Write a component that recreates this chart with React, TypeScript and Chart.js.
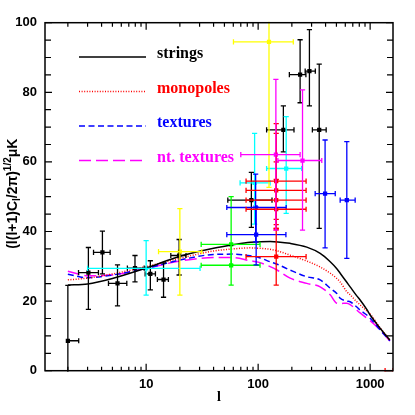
import React, { useEffect, useRef } from "react";
import { Chart, registerables } from "chart.js";
Chart.register(...registerables);

// multipole grid for theory curves
const curveL = [2, 3, 5, 10, 20, 40, 60, 85, 100, 128, 150, 193, 272, 358, 440, 504, 540, 619, 663, 760, 814, 933, 1000, 1228, 1500];
const strings = [24.6, 24.9, 26.5, 29.5, 32.9, 35.2, 36.2, 36.9, 37.0, 37.1, 37.0, 36.6, 35.5, 33.7, 31.3, 29.3, 28.0, 25.4, 24.1, 21.5, 20.3, 17.6, 16.0, 12.2, 8.8];
const monopoles = [26.1, 26.6, 27.8, 29.9, 32.3, 34.4, 35.0, 35.3, 35.2, 34.9, 34.4, 33.2, 31.5, 29.8, 28.0, 26.5, 25.5, 22.7, 21.8, 19.8, 18.9, 17.2, 16.3, 12.3, 8.8];
const textures = [27.7, 26.7, 27.5, 29.4, 31.8, 33.4, 33.5, 33.0, 32.6, 31.3, 30.5, 28.9, 27.0, 26.1, 23.7, 22.2, 20.8, 20.0, 19.8, 18.3, 17.4, 16.0, 15.1, 11.7, 8.6];
const ntTextures = [28.6, 27.3, 27.5, 29.4, 31.5, 32.5, 32.5, 31.6, 31.2, 29.9, 28.8, 26.6, 25.1, 24.1, 21.8, 19.4, 19.3, 19.4, 19.0, 17.4, 16.6, 15.1, 14.4, 11.7, 8.5];

// measurements: [l, value, lLow, lHigh, valueLow, valueHigh]
const blackPts = [
  [2, 8.6, 2, 2.5, -5, 24.5],
  [3.05, 28.2, 2.49, 3.75, 17.6, 35.4],
  [4.07, 34.0, 3.39, 4.77, 27.8, 40.1],
  [5.55, 25.1, 4.61, 6.72, 18.6, 30.4],
  [7.95, 29.5, 6.8, 9.6, 25.5, 33.1],
  [10.9, 27.8, 9.8, 12.1, 23.2, 31.6],
  [14.3, 26.2, 12.6, 15.8, 21.1, 31.0],
  [19.7, 33.1, 16.6, 22.7, 27.5, 37.7],
  [87, 49.0, 53.6, 133, 41.2, 57.0],
  [168, 69.2, 119, 209, 62.9, 76.1],
  [237, 85.1, 190, 267, 77.0, 95.1],
  [287, 86.1, 263, 324, 76.1, 98.0],
  [351, 69.2, 305, 405, 40.9, 88.1],
];
const cyanPts = [
  [10, 29.4, 3.0, 30.3, 21.7, 37.4],
  [93, 54.0, 69, 128, 42.1, 68.2],
  [178, 58.1, 119, 245, 45.2, 73.0],
];
const yellowPts = [
  [20, 34.2, 12.9, 31.4, 21.7, 46.6],
  [125, 94.5, 60.2, 206, 52.7, 110],
];
const greenPts = [
  [57.4, 36.3, 31, 104, 30.3, 50.0],
  [57.4, 30.3, 31, 104, 24.6, 36.3],
];
const bluePts = [
  [96, 39.1, 52.5, 177, 30.4, 47],
  [95, 46.9, 52.5, 178, 37, 56.5],
  [396, 50.9, 323, 488, 35.3, 66.3],
  [619, 49.0, 540, 735, 32.3, 65.8],
];
const redPts = [
  [145, 54.5, 78, 268, 40.9, 71.0],
  [145, 51.8, 78, 268, 43.5, 68.2],
  [145, 49.0, 78, 268, 42, 60],
  [145, 46.4, 78, 268, 40.5, 55],
  [145, 32.8, 78, 268, 24.6, 40.9],
];
const magentaPts = [
  [144, 62.1, 70, 237, 40.4, 83.7],
  [249, 60.4, 150, 370, 40.4, 80.7],
];
const redZeroBar = [[1470, 0, 1360, 1600, 0, 0]];

const xTickLabels = [10, 100, 1000];
const xMin = 1.25;
const xMax = 1600;
const yMin = 0;
const yMax = 100;

const legendNames = ["strings", "monopoles", "textures", "nt. textures"];
const curveColors = ["#000000", "#ff0000", "#0000ff", "#ff00ff"];
const curveDashes = [[], [1, 1.6], [6, 3.5], [12, 5]];

const groups = [
  { color: "#000000", pts: blackPts, marker: true },
  { color: "#00ffff", pts: cyanPts, marker: true },
  { color: "#ffff00", pts: yellowPts, marker: true },
  { color: "#00ff00", pts: greenPts, marker: true },
  { color: "#0000ff", pts: bluePts, marker: true },
  { color: "#ff0000", pts: redPts, marker: true },
  { color: "#ff00ff", pts: magentaPts, marker: true },
  { color: "#ff0000", pts: redZeroBar, marker: false },
];

const errorBarPlugin = {
  id: "errorBars",
  afterDatasetsDraw(chart: any) {
    const { ctx, chartArea: a, scales } = chart;
    const xs = scales.x, ys = scales.y;
    ctx.save();
    ctx.beginPath();
    ctx.rect(a.left, a.top - 1, a.right - a.left, a.bottom - a.top + 2);
    ctx.clip();
    ctx.lineWidth = 1.3;
    const cap = 2.6;
    groups.forEach((g) => {
      ctx.strokeStyle = g.color;
      g.pts.forEach((p) => {
        const px = xs.getPixelForValue(p[0]);
        const py = ys.getPixelForValue(p[1]);
        const x0 = xs.getPixelForValue(p[2]);
        const x1 = xs.getPixelForValue(p[3]);
        const y0 = ys.getPixelForValue(p[4]);
        const y1 = ys.getPixelForValue(p[5]);
        ctx.beginPath();
        ctx.moveTo(x0, py); ctx.lineTo(x1, py);
        if (p[4] !== p[5]) { ctx.moveTo(px, y0); ctx.lineTo(px, y1); }
        if (p[2] !== p[0]) { ctx.moveTo(x0, py - cap); ctx.lineTo(x0, py + cap); }
        ctx.moveTo(x1, py - cap); ctx.lineTo(x1, py + cap);
        if (p[4] !== p[5]) {
          ctx.moveTo(px - cap, y0); ctx.lineTo(px + cap, y0);
          ctx.moveTo(px - cap, y1); ctx.lineTo(px + cap, y1);
        }
        ctx.stroke();
      });
    });
    ctx.restore();
  },
};

const framePlugin = {
  id: "frameTicks",
  afterDraw(chart: any) {
    const { ctx, chartArea: a, scales } = chart;
    const xs = scales.x, ys = scales.y;
    ctx.save();
    ctx.strokeStyle = "#000";
    ctx.lineWidth = 1.5;
    ctx.setLineDash([]);
    ctx.strokeRect(a.left, a.top, a.right - a.left, a.bottom - a.top);
    ctx.lineWidth = 1.2;
    ctx.beginPath();
    for (let v = yMin; v <= yMax; v += 5) {
      const py = ys.getPixelForValue(v);
      const len = v % 20 === 0 ? 7 : 6;
      ctx.moveTo(a.left, py); ctx.lineTo(a.left + len, py);
      ctx.moveTo(a.right, py); ctx.lineTo(a.right - len, py);
    }
    for (let dec = 1; dec <= 1000; dec *= 10) {
      for (let m = 1; m <= 9; m++) {
        const v = dec * m;
        if (v < xMin || v > xMax) continue;
        const px = xs.getPixelForValue(v);
        const len = m === 1 ? 7 : 4;
        ctx.moveTo(px, a.bottom); ctx.lineTo(px, a.bottom - len);
        ctx.moveTo(px, a.top); ctx.lineTo(px, a.top + len);
      }
    }
    ctx.stroke();

    // legend inside plot
    legendNames.forEach((name, i) => {
      const ly = 57 + i * 34.5;
      ctx.strokeStyle = curveColors[i];
      ctx.lineWidth = 1.5;
      ctx.setLineDash(curveDashes[i]);
      ctx.beginPath();
      ctx.moveTo(79, ly); ctx.lineTo(146, ly);
      ctx.stroke();
      ctx.setLineDash([]);
      ctx.fillStyle = curveColors[i];
      ctx.font = 'bold 16px "Liberation Serif", serif';
      ctx.textAlign = "left";
      ctx.textBaseline = "alphabetic";
      ctx.fillText(name, 157, ly + 1);
    });

    // x title
    ctx.fillStyle = "#000";
    ctx.font = 'bold 14px "Liberation Serif", serif';
    ctx.textAlign = "center";
    ctx.fillText("l", (a.left + a.right) / 2, 401);

    // y title with sub/superscripts
    const big = 'bold 14px "Liberation Sans", Arial, sans-serif';
    const small = 'bold 10px "Liberation Sans", Arial, sans-serif';
    const parts = [
      { t: "(l(l+1)C", f: big, dy: 0 },
      { t: "l", f: small, dy: 3 },
      { t: "/2\u03c0)", f: big, dy: 0 },
      { t: "1/2", f: small, dy: -6 },
      { t: "\u03bcK", f: big, dy: 0 },
    ];
    let total = 0;
    parts.forEach((p) => { ctx.font = p.f; total += ctx.measureText(p.t).width; });
    ctx.translate(17, (a.top + a.bottom) / 2 - 3);
    ctx.rotate(-Math.PI / 2);
    ctx.textAlign = "left";
    let cx = -total / 2;
    parts.forEach((p) => {
      ctx.font = p.f;
      ctx.fillText(p.t, cx, p.dy);
      cx += ctx.measureText(p.t).width;
    });
    ctx.restore();
  },
};

export default function App() {
  const ref = useRef<HTMLCanvasElement | null>(null);
  useEffect(() => {
    if (!ref.current) return;
    const curveSets = [strings, monopoles, textures, ntTextures].map((arr, i) => ({
      type: "line" as const,
      label: legendNames[i],
      data: arr.map((v, j) => ({ x: curveL[j], y: v })),
      borderColor: curveColors[i],
      borderWidth: 1.5,
      borderDash: curveDashes[i],
      pointRadius: 0,
      fill: false,
      cubicInterpolationMode: "monotone" as const,
    }));
    const pointSets = groups.filter((g) => g.marker).map((g) => ({
      type: "scatter" as const,
      label: "data",
      data: g.pts.map((p) => ({ x: p[0], y: p[1] })),
      backgroundColor: g.color,
      borderColor: g.color,
      borderWidth: 0,
      pointStyle: "rect" as const,
      pointRadius: 3,
      showLine: false,
    }));
    const chart = new Chart(ref.current, {
      type: "scatter",
      data: { datasets: [...curveSets, ...pointSets] as any },
      options: {
        animation: false,
        responsive: false,
        devicePixelRatio: 1,
        layout: { padding: { top: 22.7, right: 22, left: 0, bottom: 0 } },
        plugins: { legend: { display: false }, tooltip: { enabled: false } },
        scales: {
          x: {
            type: "logarithmic",
            min: xMin,
            max: xMax,
            grid: { display: false, drawTicks: false },
            border: { display: false },
            afterBuildTicks: (s: any) => { s.ticks = xTickLabels.map((v) => ({ value: v })); },
            afterFit: (s: any) => { s.height = 44.3; },
            ticks: {
              autoSkip: false,
              maxRotation: 0,
              padding: 6,
              color: "#000",
              font: { family: '"Liberation Sans", Arial, sans-serif', size: 13, weight: "bold" },
              callback: (v: any) => String(v),
            },
          },
          y: {
            type: "linear",
            min: yMin,
            max: yMax,
            grid: { display: false, drawTicks: false },
            border: { display: false },
            afterFit: (s: any) => { s.width = 45; },
            ticks: {
              stepSize: 20,
              padding: 8,
              color: "#000",
              font: { family: '"Liberation Sans", Arial, sans-serif', size: 13, weight: "bold" },
            },
          },
        },
      },
      plugins: [errorBarPlugin, framePlugin],
    });
    return () => chart.destroy();
  }, []);
  return (
    <div style={{ position: "absolute", left: 0, top: 0, width: 415, height: 415, background: "#fff" }}>
      <canvas ref={ref} width={415} height={415} />
    </div>
  );
}
